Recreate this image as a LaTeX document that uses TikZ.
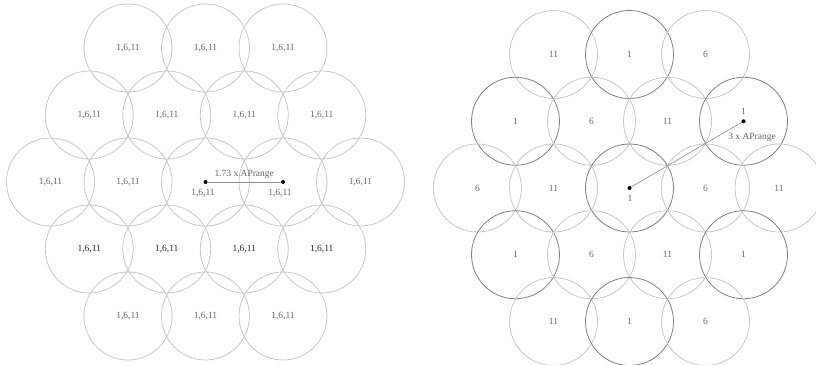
\documentclass[tikz,border=0pt]{standalone}
\usepackage{fontspec}
\setmainfont{Liberation Serif}
\begin{document}
\begin{tikzpicture}[x=1pt,y=-1pt,
  cell/.style={circle,draw=black!22,line width=0.8pt,minimum size=88pt,inner sep=0pt,
    font=\fontsize{9.5}{10}\selectfont,text=black!60},
  darkcell/.style={cell,text=black!85},
  cochan/.style={cell,draw=black!50},
  ap/.style={circle,fill=black,inner sep=0pt,minimum size=4pt},
  lbl/.style={font=\fontsize{9.5}{10}\selectfont,text=black!60,inner sep=0pt},
  rangeline/.style={draw=black!45,line width=0.6pt}]
\useasboundingbox (0,0) rectangle (816,364);

% ---------------- left: every AP on channels 1,6,11 ----------------
\node[cell] (La1) at (128,48)   {1,6,11};
\node[cell] (La2) at (205.5,48) {1,6,11};
\node[cell] (La3) at (283,48)   {1,6,11};
\node[cell] (Lb1) at (89.25,115)  {1,6,11};
\node[cell] (Lb2) at (166.75,115) {1,6,11};
\node[cell] (Lb3) at (244.25,115) {1,6,11};
\node[cell] (Lb4) at (321.75,115) {1,6,11};
\node[cell] (Lc1) at (50.5,182)  {1,6,11};
\node[cell] (Lc2) at (128,182)   {1,6,11};
\node[cell] (Lc3) at (205.5,182) {};
\node[cell] (Lc4) at (283,182)   {};
\node[cell] (Lc5) at (360.5,182) {1,6,11};
\node[darkcell] (Ld1) at (89.25,249)  {1,6,11};
\node[darkcell] (Ld2) at (166.75,249) {1,6,11};
\node[darkcell] (Ld3) at (244.25,249) {1,6,11};
\node[darkcell] (Ld4) at (321.75,249) {1,6,11};
\node[cell] (Le1) at (128,316)   {1,6,11};
\node[cell] (Le2) at (205.5,316) {1,6,11};
\node[cell] (Le3) at (283,316)   {1,6,11};

\node[ap] (apL1) at (Lc3.center) {};
\node[ap] (apL2) at (Lc4.center) {};
\node[lbl] (tL1) at (203,193) {1,6,11};
\node[lbl] (tL2) at (280,193) {1,6,11};
\draw[rangeline] (apL1) -- node[lbl,above=3pt] (dL) {1.73 x APrange} (apL2);

% ---------------- right: 3-channel reuse ----------------
\node[cell]   (Ra1) at (553.5,54.5) {11};
\node[cochan] (Ra2) at (629.5,54.5) {1};
\node[cell]   (Ra3) at (705.5,54.5) {6};
\node[cochan] (Rb1) at (515.5,121.25) {1};
\node[cell]   (Rb2) at (591.5,121.25) {6};
\node[cell]   (Rb3) at (667.5,121.25) {11};
\node[cochan] (Rb4) at (743.5,121.25) {};
\node[cell]   (Rc1) at (477.5,188) {6};
\node[cell]   (Rc2) at (553.5,188) {11};
\node[cochan] (Rc3) at (629.5,188) {};
\node[cell]   (Rc4) at (705.5,188) {6};
\node[cell]   (Rc5) at (779,188)   {11};
\node[cochan] (Rd1) at (515.5,254.75) {1};
\node[cell]   (Rd2) at (591.5,254.75) {6};
\node[cell]   (Rd3) at (667.5,254.75) {11};
\node[cochan] (Rd4) at (743.5,254.75) {1};
\node[cell]   (Re1) at (553.5,321.5) {11};
\node[cochan] (Re2) at (629.5,321.5) {1};
\node[cell]   (Re3) at (705.5,321.5) {6};

\node[ap] (apR1) at (Rc3.center) {};
\node[ap] (apR2) at (Rb4.center) {};
\node[lbl] (tR1) at (630,198) {1};
\node[lbl] (tR2) at (743.5,111) {1};
\draw[rangeline] (apR1) -- (apR2);
\node[lbl] (dR) at (752,137) {3 x APrange};
\end{tikzpicture}
\end{document}
